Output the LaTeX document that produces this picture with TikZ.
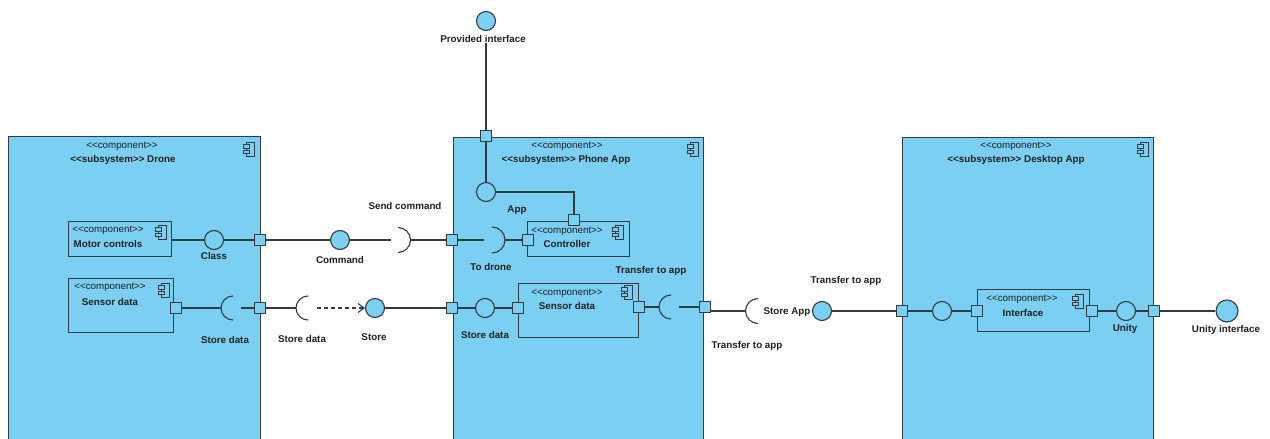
\documentclass[tikz,border=0pt]{standalone}
\usepackage{fontspec}
\setmainfont{Liberation Sans}
\usetikzlibrary{arrows.meta}
\definecolor{compfill}{HTML}{7ACFF3}
\definecolor{ink}{HTML}{333B40}
\definecolor{txt}{HTML}{202020}
% stereotype brackets without ligatures
\newcommand\sterbr[1]{<{}<#1>{}>}
\tikzset{
  wire/.style={draw=ink, line width=1.1pt},
  bigbox/.style={draw=ink, fill=compfill, line width=1.3pt, anchor=north west, inner sep=0},
  partbox/.style={draw=ink, fill=compfill, line width=1.1pt, anchor=north west, inner sep=0},
  port/.style={draw=ink, fill=compfill, line width=1.1pt, minimum size=11pt, inner sep=0},
  iface/.style={circle, draw=ink, fill=compfill, line width=1.1pt, minimum size=19pt, inner sep=0},
  lbl/.style={font=\fontsize{9.8}{11}\selectfont\bfseries, text=txt, inner sep=0},
  stereo/.style={font=\fontsize{9.8}{11}\selectfont, text=txt, inner sep=0},
  cicon/.pic={
    \draw[ink, line width=0.9pt, fill=compfill] (-2.5,-7) rectangle (5,7);
    \draw[ink, line width=0.9pt, fill=compfill] (-5.5,-4.5) rectangle (0.5,-1);
    \draw[ink, line width=0.9pt, fill=compfill] (-5.5,1) rectangle (0.5,4.5);
  },
}
\begin{document}
\begin{tikzpicture}[x=1pt, y=-1pt]
\useasboundingbox (0,0) rectangle (1270,439);
\clip (0,0) rectangle (1270,439);
\fill[white] (0,0) rectangle (1270,439);

% ---------- subsystems ----------
\node[bigbox, minimum width=252pt, minimum height=330pt] (drone) at (8,136) {};
\node[bigbox, minimum width=250pt, minimum height=330pt] (phone) at (453,137) {};
\node[bigbox, minimum width=251pt, minimum height=330pt] (desk) at (902,137) {};

\node[stereo] (droneSt) at (122,146) {\sterbr{component}};
\node[lbl] (droneNm) at (123,160) {\sterbr{subsystem} Drone};
\pic at (249,149) {cicon};
\node[stereo] (phoneSt) at (567,146) {\sterbr{component}};
\node[lbl] (phoneNm) at (566,160) {\sterbr{subsystem} Phone App};
\pic at (693,149) {cicon};
\node[stereo] (deskSt) at (1016,146) {\sterbr{component}};
\node[lbl] (deskNm) at (1016,160) {\sterbr{subsystem} Desktop App};
\pic at (1143,149) {cicon};

% ---------- inner components ----------
\node[partbox, minimum width=103pt, minimum height=35pt] (motor) at (68,221) {};
\node[stereo] (motorSt) at (108,230) {\sterbr{component}};
\node[lbl] (motorNm) at (108,244) {Motor controls};
\pic at (161,232) {cicon};

\node[partbox, minimum width=105pt, minimum height=54pt] (dsens) at (68,278) {};
\node[stereo] (dsensSt) at (110,287) {\sterbr{component}};
\node[lbl] (dsensNm) at (110,302) {Sensor data};
\pic at (164,290) {cicon};

\node[partbox, minimum width=102pt, minimum height=35pt] (ctrl) at (527,221) {};
\node[stereo] (ctrlSt) at (567,231) {\sterbr{component}};
\node[lbl] (ctrlNm) at (567,244) {Controller};
\pic at (618,232) {cicon};

\node[partbox, minimum width=120pt, minimum height=54pt] (psens) at (518,283) {};
\node[stereo] (psensSt) at (567,293) {\sterbr{component}};
\node[lbl] (psensNm) at (567,306) {Sensor data};
\pic at (627,292) {cicon};

\node[partbox, minimum width=112pt, minimum height=42pt] (intf) at (977,289) {};
\node[stereo] (intfSt) at (1022,299) {\sterbr{component}};
\node[lbl] (intfNm) at (1023,313) {Interface};
\pic at (1078,301) {cicon};

% ---------- ports ----------
\node[port] (pD1) at (260,240) {};
\node[port] (pD2) at (260,308) {};
\node[port] (pDS) at (176,308) {};
\node[port] (pP1) at (452,240) {};
\node[port] (pP2) at (452,308) {};
\node[port] (pPtop) at (486,136) {};
\node[port] (pCtop) at (574,220) {};
\node[port] (pCleft) at (528,240) {};
\node[port] (pSL) at (518,308) {};
\node[port] (pSR) at (639,307) {};
\node[port] (pPR) at (705,307) {};
\node[port] (pDL) at (902,311) {};
\node[port] (pIL) at (977,311) {};
\node[port] (pIR) at (1092,311) {};
\node[port] (pDR) at (1154,311) {};

% ---------- provided interfaces ----------
\node[iface] (cClass) at (214,240) {};
\node[iface] (cCmd) at (340,240) {};
\node[iface] (cStore) at (375,308) {};
\node[iface] (cProv) at (486,21) {};
\node[iface] (cApp) at (486,192) {};
\node[iface] (cSD) at (485,308) {};
\node[iface] (cStoreApp) at (822,311) {};
\node[iface] (cDesk) at (942,311) {};
\node[iface] (cUnity) at (1126,311) {};
\node[iface, minimum size=22pt] (cUI) at (1227,311) {};

% ---------- required interfaces (socket centres) ----------
\coordinate (sD) at (233,308);
\coordinate (sSend) at (398,240);
\coordinate (sStore) at (308,308);
\coordinate (sDrone) at (492,240);
\coordinate (sTr) at (671,307);
\coordinate (sApp) at (758,311);

\draw[wire] ([yshift=12pt]sD) arc[start angle=90, end angle=270, radius=12pt];
\draw[wire] ([yshift=12.5pt]sSend) arc[start angle=90, end angle=-90, radius=12.5pt];
\draw[wire] ([yshift=12pt]sStore) arc[start angle=90, end angle=270, radius=12pt];
\draw[wire] ([yshift=13pt]sDrone) arc[start angle=90, end angle=-90, radius=13pt];
\draw[wire] ([yshift=12pt]sTr) arc[start angle=90, end angle=270, radius=12pt];
\draw[wire] ([yshift=12.5pt]sApp) arc[start angle=90, end angle=270, radius=12.5pt];

% ---------- labels ----------
\node[lbl] (lClass) at (214,256) {Class};
\node[lbl] (lDStore) at (225,340) {Store data};
\node[lbl] (lCmd) at (340,260) {Command};
\node[lbl] (lSend) at (405,206) {Send command};
\node[lbl] (lStoreData) at (302,339) {Store data};
\node[lbl] (lStore) at (374,337) {Store};
\node[lbl] (provLbl) at (483,39) {Provided interface};
\node[lbl] (lApp) at (517,210) {App};
\node[lbl] (lDrone) at (491,267) {To drone};
\node[lbl] (lPStore) at (485,335) {Store data};
\node[lbl] (lTr1) at (651,271) {Transfer to app};
\node[lbl] (lTr2) at (846,281) {Transfer to app};
\node[lbl] (lStoreApp) at (787,312) {Store App};
\node[lbl] (lTr3) at (747,346) {Transfer to app};
\node[lbl] (lUnity) at (1125,329) {Unity};
\node[lbl] (lUI) at (1226,330) {Unity interface};

% ---------- connectors ----------
% command row
\draw[wire] (motor.east |- cClass) -- (cClass);
\draw[wire] (cClass) -- (pD1);
\draw[wire] (pD1) -- (cCmd);
\draw[wire] (cCmd) -- ([xshift=-7pt]sSend);
\draw[wire] ([xshift=12.5pt]sSend) -- (pP1);
\draw[wire] (pP1) -- ([xshift=-8pt]sDrone);
\draw[wire] ([xshift=13pt]sDrone) -- (pCleft);
% store row
\draw[wire] (pDS) -- ([xshift=-12pt]sD);
\draw[wire] ([xshift=8pt]sD) -- (pD2);
\draw[wire] (pD2) -- ([xshift=-12pt]sStore);
\draw[wire, dash pattern=on 4pt off 3pt, -{Straight Barb[length=6pt,width=9pt]}]
  ([xshift=9pt]sStore) -- (cStore);
\draw[wire] (cStore) -- (pP2);
\draw[wire] (pP2) -- (cSD);
\draw[wire] (cSD) -- (pSL);
% provided interface and app
\draw[wire] (cProv |- provLbl.south) -- (pPtop);
\draw[wire] (pPtop) -- (cApp);
\draw[wire] (cApp) -- (cApp -| pCtop) -- (pCtop);
% transfer row
\draw[wire] (pSR) -- ([xshift=-12pt]sTr);
\draw[wire] ([xshift=8pt]sTr) -- (pPR);
\draw[wire] ([yshift=-4pt]pPR.east) -- ([xshift=-12.5pt]sApp);
\draw[wire] (cStoreApp) -- (pDL);
\draw[wire] (pDL) -- (cDesk);
\draw[wire] (cDesk) -- (pIL);
\draw[wire] (pIR) -- (cUnity);
\draw[wire] (cUnity) -- (pDR);
\draw[wire] (pDR) -- (cUI);
\end{tikzpicture}
\end{document}
